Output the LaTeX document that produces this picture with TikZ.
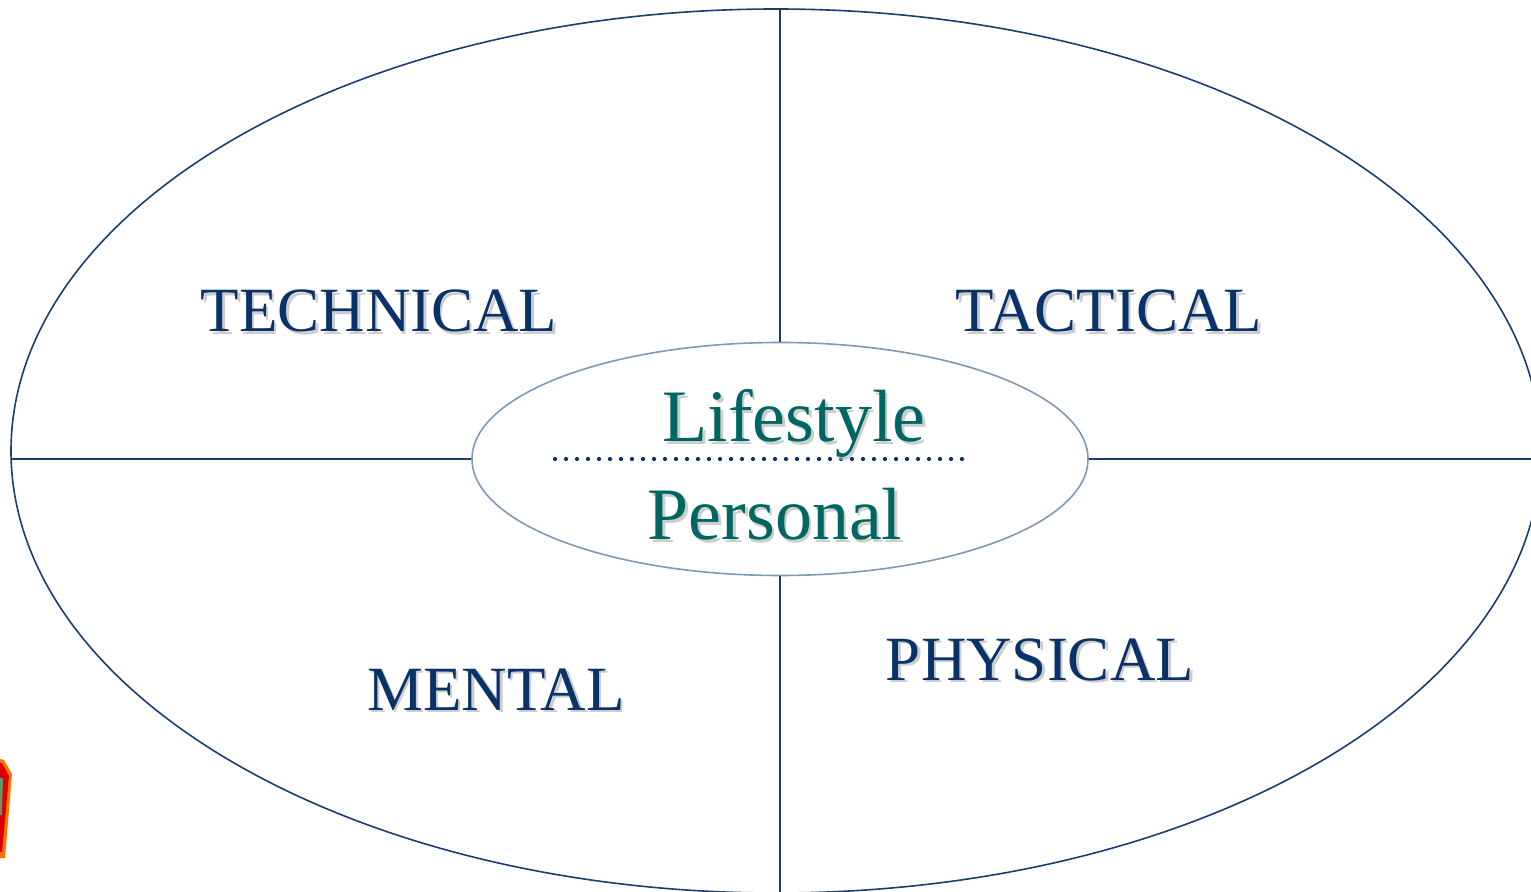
\documentclass[tikz,border=0pt]{standalone}
\usepackage{fontspec}
\setmainfont{Liberation Serif}
\usepackage{tikz}
\usetikzlibrary{shapes.geometric}
\definecolor{navy}{RGB}{8,50,104}
\definecolor{rim}{RGB}{27,62,110}
\definecolor{core}{RGB}{128,152,182}
\definecolor{teal}{RGB}{0,102,98}
\tikzset{quarter/.style={navy,anchor=base,font=\fontsize{31.5}{36}\selectfont}}
\tikzset{inner/.style={teal,anchor=base,font=\fontsize{37}{42}\selectfont}}
\tikzset{shade/.style={black!28,opacity=0.7}}
\tikzset{rimline/.style={rim,line width=0.8pt}}
\newcommand{\shadowed}[4]{%
  \node[#1,shade] (#2-s) at ([shift={(2.5,2.5)}]#3) {#4};
  \node[#1] (#2) at (#3) {#4};}

\begin{document}
\begin{tikzpicture}[x=0.5pt,y=-0.5pt]
    \useasboundingbox (0,0) rectangle (1531,892);
    \clip (0,0) rectangle (1531,892);
    % outer field and the inner core (sizes in pt)
    \node[ellipse,draw,rimline,minimum width=765pt,minimum height=442pt,inner sep=0pt] (field) at (776,451) {};
    \node[ellipse,draw=core,line width=0.8pt,minimum width=308pt,minimum height=116.5pt,inner sep=0pt] (hub) at (780,459) {};
    \coordinate (n) at (780,9);
    \coordinate (s) at (780,892);
    \coordinate (w) at (11,459);
    \coordinate (e) at (1531,459);
    \draw[rimline] (n) -- (hub.north);
    \draw[rimline] (hub.south) -- (s);
    \draw[rimline] (w) -- (hub.west);
    \draw[rimline] (hub.east) -- (e);
    % dotted divider
    \foreach \i in {0,...,37}
      \fill[navy] (555+\i*11,459) circle[radius=1.05pt];
    % quarter labels
    \shadowed{quarter}{tech}{379,332}{TECHNICAL}
    \shadowed{quarter}{tact}{1109,332}{TACTICAL}
    \shadowed{quarter}{ment}{496,710}{MENTAL}
    \shadowed{quarter}{phys}{1040,680}{PHYSICAL}
    \shadowed{inner}{life}{794,442}{Lifestyle}
    \shadowed{inner}{pers}{775,540}{Personal}
    % piece of the badge at the left edge
    \fill[orange!90!red] (-30,752) -- (4,760) -- (12,774) -- (5,858) -- (-30,858) -- cycle;
    \fill[red!85!black] (-30,755) -- (2,763) -- (9,776) -- (2,852) -- (-30,852) -- cycle;
    \fill[black!70!green!60] (-30,775) -- (3,778) -- (2,815) -- (-30,815) -- cycle;
  \end{tikzpicture}
\end{document}
